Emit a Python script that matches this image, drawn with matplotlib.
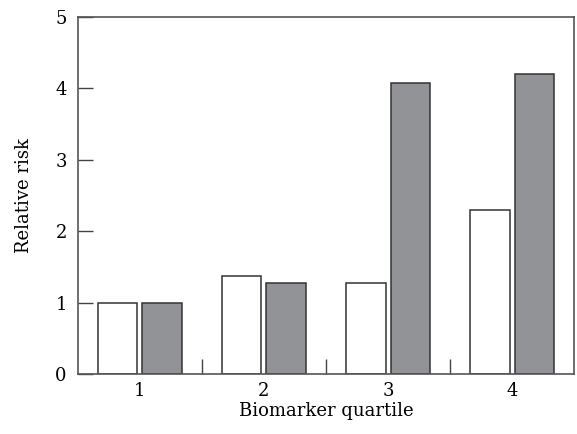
import numpy as np
import matplotlib
matplotlib.use('Agg')
import matplotlib.pyplot as plt
import matplotlib.ticker as mticker

# data
quartiles = [1, 2, 3, 4]
risk_white = [1.00, 1.38, 1.28, 2.30]
risk_gray = [1.00, 1.28, 4.08, 4.20]

plt.rcParams['font.family'] = ['DejaVu Serif']

fig = plt.figure(figsize=(5.77, 4.34), dpi=100)
ax = fig.add_axes([0.135, 0.138, 0.86, 0.823])

x = np.array(quartiles)
w = 0.32
ec = '#333333'
ax.bar(x - 0.18, risk_white, width=w, color='white', edgecolor=ec, linewidth=1.1)
ax.bar(x + 0.18, risk_gray, width=w, color='#929397', edgecolor=ec, linewidth=1.1)

ax.set_xlim(0.5, 4.5)
ax.set_ylim(0, 5)
ax.set_xticks(quartiles)
ax.xaxis.set_minor_locator(mticker.FixedLocator([1.5, 2.5, 3.5]))
ax.tick_params(axis='x', which='major', length=0, pad=6, labelsize=13)
ax.tick_params(axis='x', which='minor', direction='in', length=11, width=1, color='#444444')
ax.set_yticks([0, 1, 2, 3, 4, 5])
ax.tick_params(axis='y', direction='in', length=11, width=1, color='#444444', pad=8, labelsize=13)

for s in ax.spines.values():
    s.set_color('#555555')
    s.set_linewidth(1.2)

ax.set_xlabel('Biomarker quartile', fontsize=13, labelpad=1)
ax.set_ylabel('Relative risk', fontsize=13, labelpad=16)

plt.savefig('out.png', dpi=100)
